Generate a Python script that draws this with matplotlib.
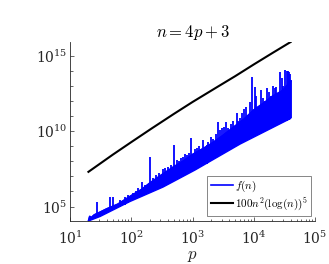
import numpy as np
import matplotlib
matplotlib.use("Agg")
import matplotlib.pyplot as plt
from matplotlib.ticker import FixedLocator, LogFormatterMathtext, NullFormatter

plt.rcParams['mathtext.fontset'] = 'cm'
plt.rcParams['font.family'] = ['DejaVu Serif']

# ---- data (log10 of the values) ----
# black curve 100 n^2 (log(n))^5
black_p = [20, 50, 100, 216, 500, 1000, 2640, 5000, 10000, 20000, 40000]
black_lv = [7.30, 8.44, 9.27, 10.18, 11.15, 11.93, 12.97, 13.65, 14.42, 15.17, 15.91]

# f(n): lower envelope of the dense band
low_p = [20, 31, 95, 330, 1100, 5970, 40000]
low_lv = [4.04, 4.34, 5.33, 6.29, 7.42, 9.14, 10.84]

# f(n): typical top of the dense band
band_p = [20, 21, 22, 25, 30, 40, 60, 100, 150, 200, 300, 500, 700, 1000,
          1500, 2000, 3000, 5000, 7000, 10000, 15000, 20000, 30000, 40000]
band_lv = [4.04, 4.35, 4.25, 4.45, 4.60, 4.85, 5.15, 5.72, 6.15, 6.55, 7.05,
           7.65, 8.00, 8.45, 8.85, 9.15, 9.65, 10.35, 10.80, 11.40, 11.90,
           12.30, 12.70, 13.30]

# f(n): spikes above the band (position, top, base)
spk_p = [27.3, 45, 50, 66, 80, 90, 105, 120, 130, 150, 170, 202, 230, 250,
         280, 330, 360, 400, 450, 505, 550, 600, 650, 700, 750, 800, 870, 946,
         1100, 1200, 1300, 1500, 1700, 1810, 2000, 2200, 2400, 2570, 2800,
         3000, 3300, 3500, 3800, 4200, 4600, 5250, 5600, 6000, 6500, 7000,
         7500, 8000, 8600, 9250, 10500, 11000, 12600, 13000, 14000, 15000,
         16300, 17500, 19000, 20500, 22300, 23500, 25000, 27000, 28500, 30000,
         32000, 34500, 36000, 37000, 39000, 40000]
spk_lv = [5.32, 5.65, 5.65, 5.40, 5.60, 5.75, 5.90, 6.00, 6.20, 6.60, 6.45,
          8.30, 6.90, 7.10, 7.20, 7.50, 7.55, 7.60, 7.75, 9.07, 8.10, 8.00,
          8.25, 8.30, 8.45, 8.40, 8.55, 9.52, 8.80, 8.90, 9.00, 9.40, 9.10,
          9.29, 9.60, 9.50, 9.80, 10.58, 10.10, 10.20, 10.30, 10.60, 10.20,
          10.50, 10.70, 11.21, 10.70, 10.90, 11.20, 11.50, 11.60, 11.10, 11.90,
          13.60, 12.93, 12.30, 11.61, 12.70, 12.20, 12.00, 12.83, 12.60, 12.30,
          13.00, 12.83, 12.90, 12.40, 13.93, 13.50, 13.00, 14.04, 13.99, 14.00,
          13.90, 13.80, 13.38]
spk_base = [4.45, 4.80, 4.85, 5.00, 5.10, 5.25, 5.40, 5.50, 5.60, 5.70, 5.80,
            6.00, 6.10, 6.20, 6.20, 6.30, 6.40, 6.50, 6.60, 6.80, 6.90, 6.95,
            7.00, 7.10, 7.10, 7.25, 7.30, 7.40, 7.40, 7.60, 7.55, 7.80, 7.80,
            8.00, 8.00, 8.20, 8.20, 8.30, 8.40, 8.50, 8.60, 8.65, 8.75, 8.80,
            8.90, 9.00, 9.10, 9.15, 9.25, 9.30, 9.40, 9.45, 9.55, 9.60, 9.75,
            9.80, 9.90, 9.95, 10.00, 10.05, 10.15, 10.20, 10.25, 10.35, 10.40,
            10.45, 10.45, 10.50, 10.55, 10.60, 10.65, 10.70, 10.72, 10.75,
            10.80, 10.84]

title = r'$n=4p+3$'
xlabel = r'$p$'
legend_labels = [r'$f(n)$', r'$100n^2(\log(n))^5$']

# ---- figure ----
fig = plt.figure(figsize=(3.29, 2.64), dpi=100)
ax = fig.add_axes([70/329, 1-221/264, 245/329, 179/264])

bp = np.array(black_p, float); bv = 10.0**np.array(black_lv)
lp = np.array(low_p, float); lv = 10.0**np.array(low_lv)
tp = np.array(band_p, float); tv = 10.0**np.array(band_lv)
sp = np.array(spk_p, float); sv = 10.0**np.array(spk_lv); sb = 10.0**np.array(spk_base)

blue = (0, 0, 1)
ax.fill(np.concatenate([tp, lp[::-1]]), np.concatenate([tv, lv[::-1]]),
        color=blue, lw=1.0, zorder=2)
ax.vlines(sp, sb, sv, color=blue, lw=1.3, zorder=2)
hf, = ax.plot(tp, tv, color=blue, lw=1.2, zorder=2)
hb, = ax.plot(bp, bv, color='k', lw=1.5, zorder=3)

ax.set_xscale('log')
ax.set_yscale('log')
ax.set_xlim(10, 1e5)
ax.set_ylim(lv.min(), bv.max())

axc = (0.15, 0.15, 0.15)
for s in ['top', 'right']:
    ax.spines[s].set_visible(False)
for s in ['left', 'bottom']:
    ax.spines[s].set_color(axc)
    ax.spines[s].set_linewidth(0.6)

ax.xaxis.set_major_locator(FixedLocator([1e1, 1e2, 1e3, 1e4, 1e5]))
ax.xaxis.set_minor_locator(FixedLocator([m * 10.0**e for e in range(1, 5) for m in range(2, 10)]))
ax.yaxis.set_major_locator(FixedLocator([1e5, 1e10, 1e15]))
ax.yaxis.set_minor_locator(FixedLocator([10.0**e for e in range(4, 16)]))
ax.xaxis.set_major_formatter(LogFormatterMathtext())
ax.yaxis.set_major_formatter(LogFormatterMathtext())
ax.xaxis.set_minor_formatter(NullFormatter())
ax.yaxis.set_minor_formatter(NullFormatter())
ax.tick_params(which='both', direction='in', colors=axc, labelsize=10, width=0.5)
ax.tick_params(which='major', length=3)
ax.tick_params(which='minor', length=1.8)
ax.tick_params(axis='x', pad=6)
ax.tick_params(axis='y', pad=2)

ax.set_title(title, fontsize=12, color='k', pad=2)
ax.set_xlabel(xlabel, fontsize=12, color=axc, labelpad=0)

leg = ax.legend([hf, hb], legend_labels, loc='lower right',
                bbox_to_anchor=(241/245, 5/179), borderaxespad=0,
                fontsize=8, handlelength=2.0, handletextpad=0.18,
                borderpad=0.3, labelspacing=0.1, fancybox=False, framealpha=1)
leg.get_frame().set_edgecolor('0.45')
leg.get_frame().set_linewidth(0.6)

fig.savefig('out.png', dpi=100)
